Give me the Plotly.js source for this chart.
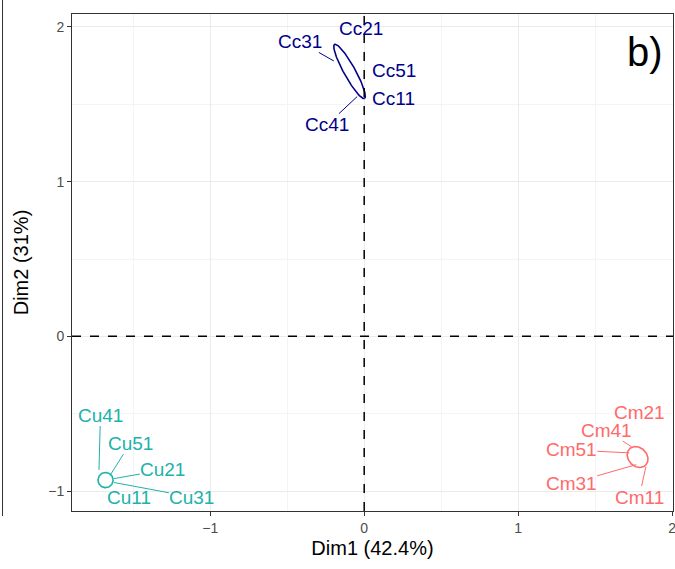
<!DOCTYPE html>
<html>
<head>
<meta charset="utf-8">
<script src="https://cdn.plot.ly/plotly-3.0.1.min.js"></script>
<style>html,body{margin:0;padding:0;background:#fff;}#chart{width:675px;height:569px;}</style>
</head>
<body>
<div id="chart"></div>
<script>
// ---- data (individual coordinates on Dim1 / Dim2) ----
const labels = ['Cc11','Cc21','Cc31','Cc41','Cc51',
                'Cu11','Cu21','Cu31','Cu41','Cu51',
                'Cm11','Cm21','Cm31','Cm41','Cm51'];
const groupOf = ['Cc','Cc','Cc','Cc','Cc','Cu','Cu','Cu','Cu','Cu','Cm','Cm','Cm','Cm','Cm'];
const dim1 = [0.003,-0.127,-0.186,-0.036,-0.030,
              -1.697,-1.639,-1.639,-1.723,-1.658,
              1.832,1.774,1.780,1.748,1.735];
const dim2 = [1.546,1.851,1.774,1.559,1.643,
              -0.948,-0.922,-0.942,-0.877,-0.910,
              -0.832,-0.735,-0.826,-0.722,-0.754];

// concentration ellipses per group
const groups = ['Cc','Cu','Cm'];
const ellCx = [-0.095,-1.680,1.776];
const ellCy = [1.713,-0.929,-0.780];
const ellA  = [0.200,0.049,0.0745];
const ellB  = [0.037,0.049,0.060];
const ellAngleDeg = [-60.9,0,-45];

const xTicks = [-1,0,1,2];
const yTicks = [-1,0,1,2];
const xTitle = 'Dim1 (42.4%)';
const yTitle = 'Dim2 (31%)';
const panelTag = 'b)';

// ---- styling ----
const colors = {Cc:'#00008B', Cu:'#20B2AA', Cm:'#FF6A6A'};
// label placement (pixel offsets of label centre from point) and whether a segment is drawn
const labDx = [29,16.5,-36,-31.5,34, 26,51,80,1.5,21.5, -7,2,-67,-27,-60];
const labDy = [1,-21.5,-20.5,29.5,-11.5, 14,-9,15,-57,-34, 32,-38,19,-18,-3];
const labSeg = [false,false,true,true,false, false,true,true,true,true, true,false,true,true,true];

const traces = [];
groups.forEach((g,i)=>{
  const xs=[], ys=[];
  const th = ellAngleDeg[i]*Math.PI/180;
  for(let k=0;k<=120;k++){
    const t = 2*Math.PI*k/120;
    const u = ellA[i]*Math.cos(t), v = ellB[i]*Math.sin(t);
    xs.push(ellCx[i] + u*Math.cos(th) - v*Math.sin(th));
    ys.push(ellCy[i] + u*Math.sin(th) + v*Math.cos(th));
  }
  traces.push({x:xs,y:ys,mode:'lines',type:'scatter',line:{color:colors[g],width:1.6},hoverinfo:'skip',showlegend:false});
});

const font = 'Liberation Sans, Arial, sans-serif';
const annotations = labels.map((lab,i)=>{
  const c = colors[groupOf[i]];
  const base = {x:dim1[i], y:dim2[i], xref:'x', yref:'y', text:lab,
    font:{family:font,size:19,color:c}};
  if(labSeg[i]){
    return Object.assign(base,{showarrow:true, ax:labDx[i], ay:labDy[i], axref:'pixel', ayref:'pixel',
      arrowhead:0, arrowwidth:1, arrowcolor:c, standoff:2, borderpad:0});
  }
  return Object.assign(base,{showarrow:false, xshift:labDx[i], yshift:-labDy[i]});
});
annotations.push({x:0.953,y:0.924,xref:'paper',yref:'paper',xanchor:'center',yanchor:'middle',
  text:panelTag,showarrow:false,font:{family:font,size:40,color:'#000'}});

const shapes = [
  {type:'line',xref:'x',yref:'paper',x0:0,x1:0,y0:0,y1:1,line:{color:'#000',width:1.5,dash:'dash'}},
  {type:'line',xref:'paper',yref:'y',x0:0,x1:1,y0:0,y1:0,line:{color:'#000',width:1.5,dash:'dash'}},
  {type:'line',xref:'paper',yref:'paper',x0:-0.1156,x1:-0.1156,y0:-0.01,y1:1.03,line:{color:'#333',width:1}}
];

const axisCommon = {
  showline:true, mirror:true, linecolor:'#333', linewidth:1,
  ticks:'outside', ticklen:4, tickcolor:'#333', tickwidth:1,
  showgrid:true, gridcolor:'#ebebeb', gridwidth:1, zeroline:false,
  tickfont:{family:font,size:14,color:'#4d4d4d'},
  ticklabeloverflow:'allow',
  minor:{dtick:0.5, showgrid:true, gridcolor:'#f4f4f4', gridwidth:1, ticks:''}
};

const layout = {
  width:675, height:569,
  margin:{l:72,r:2,t:14,b:58},
  paper_bgcolor:'#fff', plot_bgcolor:'#fff',
  showlegend:false,
  xaxis:Object.assign({}, axisCommon, {range:[-1.898,2.006], tickmode:'array', tickvals:xTicks,
    ticktext:xTicks.map(v=>v<0?'\u2212'+Math.abs(v):String(v)),
    title:{text:xTitle, font:{family:font,size:20,color:'#000'}, standoff:6}}),
  yaxis:Object.assign({}, axisCommon, {range:[-1.129,2.084], tickmode:'array', tickvals:yTicks,
    ticktext:yTicks.map(v=>v<0?'\u2212'+Math.abs(v):String(v)),
    title:{text:yTitle, font:{family:font,size:20,color:'#000'}, standoff:14}}),
  shapes:shapes,
  annotations:annotations
};

Plotly.newPlot('chart', traces, layout, {displayModeBar:false, staticPlot:true});
</script>
</body>
</html>
